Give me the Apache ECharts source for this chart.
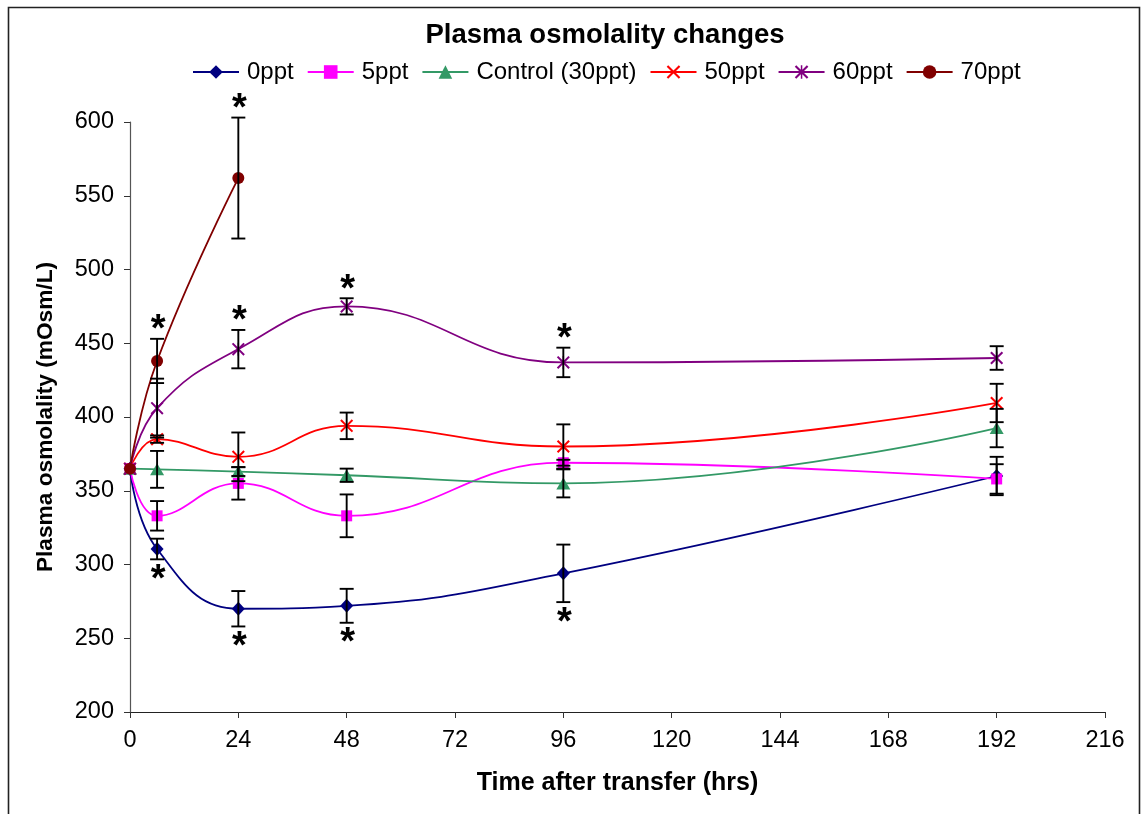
<!DOCTYPE html>
<html>
<head>
<meta charset="utf-8">
<script src="https://cdn.jsdelivr.net/npm/echarts@6/dist/echarts.min.js"></script>
<style>html,body{margin:0;padding:0;background:#fff;}#c{width:1141px;height:814px;}</style>
</head>
<body>
<div id="c"></div>
<script>
// ---- data ----
const hours = [0, 6, 24, 48, 96, 192];
const hours70 = [0, 6, 24];
const xTicks = [0, 24, 48, 72, 96, 120, 144, 168, 192, 216];
const yTicks = [200, 250, 300, 350, 400, 450, 500, 550, 600];

const seriesNames = ['0ppt', '5ppt', 'Control (30ppt)', '50ppt', '60ppt', '70ppt'];
const v0ppt   = [365, 310.5, 270, 272, 294, 360];
const e0ppt   = [0, 7, 12, 11.5, 19.5, 13];
const v5ppt   = [365, 333, 355, 333, 369, 358];
const e5ppt   = [0, 10, 11, 14.5, 2, 10];
const vCtrl   = [365, 364.5, 363, 360.5, 355, 392.5];
const eCtrl   = [0, 12.5, 3, 4.5, 9.5, 13];
const v50ppt  = [365, 385, 373, 394, 380, 409.5];
const e50ppt  = [0, 2.5, 16.5, 9, 15, 13];
const v60ppt  = [365, 406, 446, 475, 437, 440];
const e60ppt  = [0, 20, 13, 5.5, 10, 8];
const v70ppt  = [365, 438, 562];
const e70ppt  = [0, 15, 41];

// significance asterisks: series, point index, side
const sigMarks = [
  ['70ppt', 1, 'up'], ['70ppt', 2, 'up'],
  ['60ppt', 2, 'up'], ['60ppt', 3, 'up'], ['60ppt', 4, 'up'],
  ['0ppt', 1, 'down'], ['0ppt', 2, 'down'], ['0ppt', 3, 'down'], ['0ppt', 4, 'down']
];

// ---- build ----
const xsOf = {'0ppt': hours, '5ppt': hours, 'Control (30ppt)': hours, '50ppt': hours, '60ppt': hours, '70ppt': hours70};
const valsOf = {'0ppt': v0ppt, '5ppt': v5ppt, 'Control (30ppt)': vCtrl, '50ppt': v50ppt, '60ppt': v60ppt, '70ppt': v70ppt};
const errsOf = {'0ppt': e0ppt, '5ppt': e5ppt, 'Control (30ppt)': eCtrl, '50ppt': e50ppt, '60ppt': e60ppt, '70ppt': e70ppt};
const colors = {'0ppt': '#000080', '5ppt': '#FF00FF', 'Control (30ppt)': '#339966', '50ppt': '#FF0000', '60ppt': '#800080', '70ppt': '#800000'};
const xPath = 'path://M0,1.1L1.1,0L5,3.9L8.9,0L10,1.1L6.1,5L10,8.9L8.9,10L5,6.1L1.1,10L0,8.9L3.9,5Z';
const starPath = 'path://M0,1.1L1.1,0L5,3.9L8.9,0L10,1.1L6.1,5L10,8.9L8.9,10L5,6.1L1.1,10L0,8.9L3.9,5Z M4.45,0L5.55,0L5.55,10L4.45,10Z';
const symbols = {'0ppt': ['diamond', [13, 14]], '5ppt': ['rect', [11, 11]], 'Control (30ppt)': ['triangle', [14, 12]], '50ppt': [xPath, [13, 13]], '60ppt': [starPath, [13, 13]], '70ppt': ['circle', [12, 12]]};

const FONT = '"Liberation Sans", Arial, sans-serif';

const series = seriesNames.map(name => ({
  name: name,
  type: 'line',
  smooth: 0.45,
  data: xsOf[name].map((x, i) => [x, valsOf[name][i]]),
  symbol: symbols[name][0],
  symbolSize: symbols[name][1],
  showSymbol: true,
  lineStyle: {color: colors[name], width: 1.8},
  itemStyle: {color: colors[name], borderWidth: 0},
  z: 3
}));

const errData = [];
seriesNames.forEach(name => {
  xsOf[name].forEach((x, i) => {
    if (errsOf[name][i] > 0) errData.push([x, valsOf[name][i], errsOf[name][i]]);
  });
});

series.push({
  name: 'errorbars',
  type: 'custom',
  data: errData,
  z: 4,
  silent: true,
  renderItem: function (params, api) {
    const x = api.value(0), y = api.value(1), e = api.value(2);
    const top = api.coord([x, y + e]);
    const bot = api.coord([x, y - e]);
    const w = 7;
    const st = {stroke: '#000', lineWidth: 1.9};
    return {type: 'group', children: [
      {type: 'line', shape: {x1: top[0], y1: top[1], x2: bot[0], y2: bot[1]}, style: st},
      {type: 'line', shape: {x1: top[0] - w, y1: top[1], x2: top[0] + w, y2: top[1]}, style: st},
      {type: 'line', shape: {x1: bot[0] - w, y1: bot[1], x2: bot[0] + w, y2: bot[1]}, style: st}
    ]};
  }
});

const sigData = sigMarks.map(m => {
  const name = m[0], i = m[1];
  const v = valsOf[name][i], e = errsOf[name][i];
  return [xsOf[name][i], m[2] === 'up' ? v + e : v - e, m[2] === 'up' ? 1 : -1];
});

series.push({
  name: 'sig',
  type: 'custom',
  data: sigData,
  z: 5,
  silent: true,
  renderItem: function (params, api) {
    const p = api.coord([api.value(0), api.value(1)]);
    const dir = api.value(2);
    return {type: 'text', x: p[0] + 1, y: p[1] + (dir > 0 ? -8 : 21),
      style: {text: '*', fontSize: 38, fontWeight: 'bold', fontFamily: FONT, fill: '#000', align: 'center', verticalAlign: 'middle'}};
  }
});

const chart = echarts.init(document.getElementById('c'), null, {renderer: 'canvas'});
chart.setOption({
  backgroundColor: '#fff',
  animation: false,
  title: {
    text: 'Plasma osmolality changes',
    left: 600, top: 16, textAlign: 'center',
    textStyle: {fontFamily: FONT, fontSize: 27.5, fontWeight: 'bold', color: '#000'}
  },
  legend: {
    data: seriesNames,
    left: 187, top: 55,
    itemWidth: 46, itemHeight: 17, itemGap: 13,
    textStyle: {fontFamily: FONT, fontSize: 24, color: '#000', padding: [0, 0, 0, 3]}
  },
  graphic: [{
    type: 'rect', silent: true, z: 10,
    shape: {x: 8.5, y: 7.5, width: 1131, height: 830},
    style: {fill: 'none', stroke: '#222', lineWidth: 1.6}
  }],
  grid: {left: 130, right: 36, top: 122, bottom: 102, containLabel: false},
  xAxis: {
    type: 'value', min: xTicks[0], max: xTicks[xTicks.length - 1], interval: 24,
    name: 'Time after transfer (hrs)', nameLocation: 'middle', nameGap: 59,
    nameTextStyle: {fontFamily: FONT, fontSize: 25, fontWeight: 'bold', color: '#000'},
    axisLine: {lineStyle: {color: '#222', width: 1.2}},
    axisTick: {show: true, inside: false, length: 6, lineStyle: {color: '#333'}},
    axisLabel: {fontFamily: FONT, fontSize: 23.5, color: '#000', margin: 17},
    splitLine: {show: false}
  },
  yAxis: {
    type: 'value', min: yTicks[0], max: yTicks[yTicks.length - 1], interval: 50,
    name: 'Plasma osmolality (mOsm/L)', nameLocation: 'middle', nameGap: 73, nameRotate: 90,
    nameTextStyle: {fontFamily: FONT, fontSize: 22.7, fontWeight: 'bold', color: '#000'},
    axisLine: {show: true, lineStyle: {color: '#555', width: 1.2}},
    axisTick: {show: true, inside: false, length: 6, lineStyle: {color: '#333'}},
    axisLabel: {fontFamily: FONT, fontSize: 23.5, color: '#000', margin: 16},
    splitLine: {show: false}
  },
  series: series
});
</script>
</body>
</html>
